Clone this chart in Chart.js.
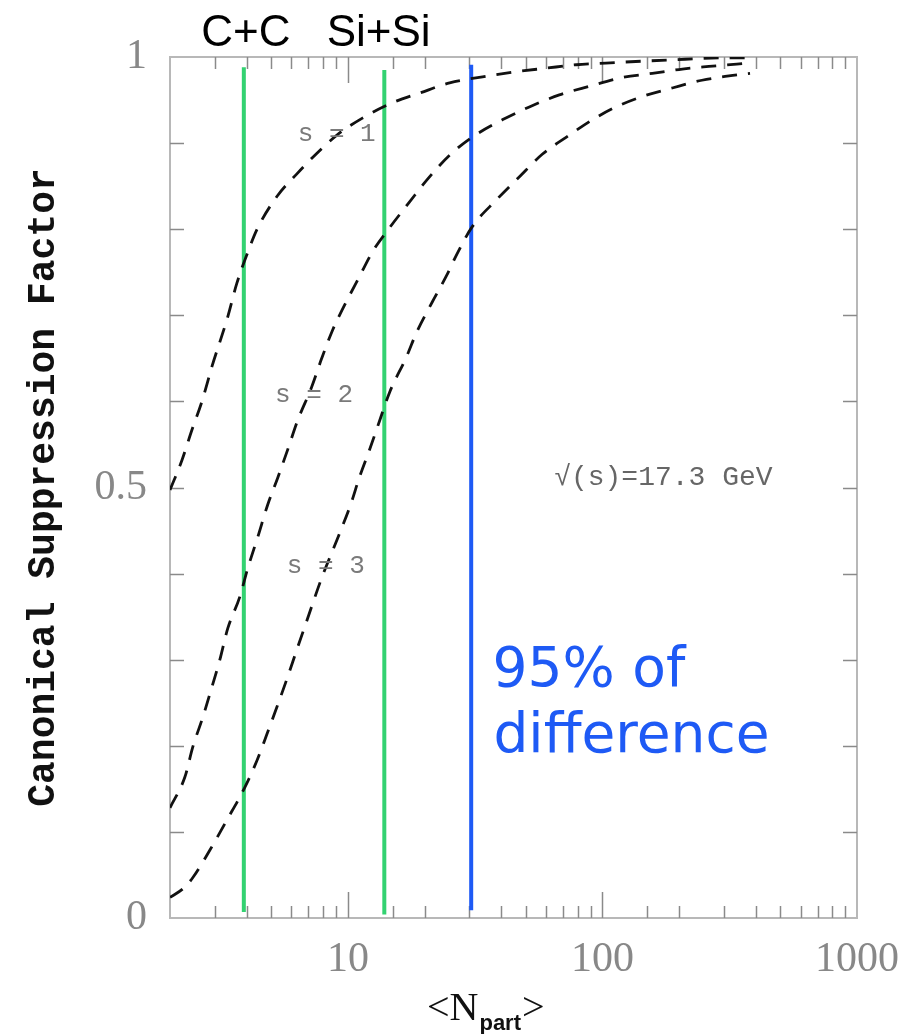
<!DOCTYPE html>
<html><head><meta charset="utf-8">
<script src="https://cdn.jsdelivr.net/npm/chart.js@4/dist/chart.umd.min.js"></script>
<style>html,body{margin:0;padding:0;background:#fff}canvas{display:block}</style>
</head><body>
<canvas id="c" width="924" height="1034"></canvas>
<script>
// ---- data ----
const s1N = [2, 2.23, 2.44, 2.67, 2.92, 3.37, 3.66, 4.04, 4.38, 5.26, 6.29, 7.54, 9.03, 11.4, 15.0, 19.1, 25.1, 33.8, 45.9, 60.1, 78.9, 103, 182, 314, 390];
const s1V = [0.497, 0.532, 0.567, 0.600, 0.640, 0.698, 0.737, 0.773, 0.799, 0.838, 0.864, 0.888, 0.909, 0.929, 0.947, 0.958, 0.970, 0.977, 0.983, 0.987, 0.991, 0.993, 0.9965, 0.999, 0.999];

const s2N = [2, 2.29, 2.46, 2.69, 2.92, 3.14, 3.37, 3.76, 4.04, 4.43, 4.84, 5.31, 5.8, 6.35, 7.21, 7.89, 8.71, 9.71, 11.1, 12.5, 14.6, 17.5, 20.4, 25.1, 30.8, 40.4, 51.6, 67.7, 88.7, 119, 157, 206, 262, 380];
const s2V = [0.128, 0.164, 0.199, 0.233, 0.268, 0.300, 0.336, 0.373, 0.406, 0.443, 0.480, 0.512, 0.544, 0.578, 0.617, 0.650, 0.683, 0.712, 0.745, 0.774, 0.802, 0.832, 0.857, 0.886, 0.907, 0.927, 0.942, 0.956, 0.966, 0.976, 0.981, 0.986, 0.989, 0.993];

const s3N = [2, 2.25, 2.46, 2.87, 3.35, 3.94, 4.38, 4.8, 5.26, 5.75, 6.29, 6.89, 7.89, 9.28, 10.3, 11.1, 12.2, 13.3, 14.6, 17.0, 18.6, 21.5, 24.4, 26.9, 30.8, 38.3, 47.2, 58.0, 72.2, 91.2, 113, 143, 188, 246, 314, 380];
const s3V = [0.024, 0.034, 0.047, 0.079, 0.114, 0.152, 0.182, 0.213, 0.245, 0.277, 0.311, 0.345, 0.395, 0.447, 0.482, 0.512, 0.545, 0.577, 0.611, 0.652, 0.680, 0.716, 0.746, 0.772, 0.803, 0.834, 0.861, 0.887, 0.907, 0.927, 0.942, 0.954, 0.964, 0.973, 0.978, 0.981];

const markerNames = ['C+C', 'Si+Si', '95%'];
const markerN     = [3.9, 13.9, 30.5];
const markerTop   = [0.988, 0.985, 0.991];
const markerBot   = [0.007, 0.004, 0.009];

const xTickLabels = [10, 100, 1000];
const yTickLabels = [0, 0.5, 1];

const curveLabels = ['s = 1', 's = 2', 's = 3'];
const energyLabel = '\u221A(s)=17.3 GeV';
const noteLines   = ['95% of', 'difference'];
const yTitle      = 'Canonical Suppression Factor';

// ---- build datasets ----
const pts = (xs, ys) => xs.map((x, i) => ({x, y: ys[i]}));
const curveStyle = {borderColor:'#111', borderWidth:2.8, borderDash:[15,11], pointRadius:0, fill:false, cubicInterpolationMode:'monotone'};
const markerColors = ['#33d271', '#33d271', '#1e5af5'];

const datasets = [
  Object.assign({label:curveLabels[0], data:pts(s1N, s1V)}, curveStyle),
  Object.assign({label:curveLabels[1], data:pts(s2N, s2V)}, curveStyle),
  Object.assign({label:curveLabels[2], data:pts(s3N, s3V)}, curveStyle),
];
markerN.forEach((n, i) => {
  datasets.push({label:markerNames[i], data:[{x:n, y:markerTop[i]}, {x:n, y:markerBot[i]}],
    borderColor:markerColors[i], borderWidth:4, pointRadius:0, fill:false});
});

const isDecade = v => Math.abs(Math.log10(v) - Math.round(Math.log10(v))) < 1e-9;
const near = (a, b) => Math.abs(a - b) < 1e-9;

const decorPlugin = {
  id: 'decor',
  beforeDatasetsDraw(chart) {
    const {ctx, chartArea:a, scales:{x, y}} = chart;
    ctx.save();
    ctx.strokeStyle = '#b8b8b8';
    ctx.lineWidth = 2;
    ctx.strokeRect(a.left, a.top, a.right - a.left, a.bottom - a.top);
    ctx.strokeStyle = '#8a8a8a';
    ctx.lineWidth = 1.5;
    x.ticks.forEach(t => {
      const px = Math.round(x.getPixelForValue(t.value)) + 0.5;
      if (px <= a.left + 1 || px >= a.right - 1) return;
      const len = isDecade(t.value) ? 26 : 12;
      ctx.beginPath();
      ctx.moveTo(px, a.bottom); ctx.lineTo(px, a.bottom - len);
      ctx.moveTo(px, a.top); ctx.lineTo(px, a.top + len);
      ctx.stroke();
    });
    y.ticks.forEach(t => {
      const py = Math.round(y.getPixelForValue(t.value)) + 0.5;
      if (py <= a.top + 1 || py >= a.bottom - 1) return;
      const len = 14;
      ctx.beginPath();
      ctx.moveTo(a.left, py); ctx.lineTo(a.left + len, py);
      ctx.moveTo(a.right, py); ctx.lineTo(a.right - len, py);
      ctx.stroke();
    });
    ctx.restore();
  },
  afterDraw(chart) {
    const {ctx, chartArea:a, scales:{x, y}} = chart;
    ctx.save();
    // curve annotations
    ctx.fillStyle = '#7a7a7a';
    ctx.font = '26px "Liberation Mono", "DejaVu Sans Mono", monospace';
    ctx.textAlign = 'left';
    ctx.textBaseline = 'middle';
    ctx.fillText(curveLabels[0], x.getPixelForValue(6.35), y.getPixelForValue(0.910));
    ctx.fillText(curveLabels[1], x.getPixelForValue(5.17), y.getPixelForValue(0.607));
    ctx.fillText(curveLabels[2], x.getPixelForValue(5.75), y.getPixelForValue(0.409));
    ctx.fillStyle = '#666';
    ctx.font = '28px "Liberation Mono", "DejaVu Sans Mono", monospace';
    ctx.fillText(energyLabel, x.getPixelForValue(64.6), y.getPixelForValue(0.512));
    // system labels above the frame
    ctx.fillStyle = '#000';
    ctx.font = '44px "Liberation Sans", Arial, sans-serif';
    ctx.textAlign = 'center';
    ctx.textBaseline = 'alphabetic';
    ctx.fillText(markerNames[0], x.getPixelForValue(3.97), y.getPixelForValue(1.0128));
    ctx.fillText(markerNames[1], x.getPixelForValue(13.2), y.getPixelForValue(1.0128));
    // blue note
    ctx.fillStyle = '#1e5af5';
    ctx.font = '55px "DejaVu Sans", sans-serif';
    ctx.textAlign = 'left';
    ctx.fillText(noteLines[0], x.getPixelForValue(37.0), y.getPixelForValue(0.2695));
    ctx.fillText(noteLines[1], x.getPixelForValue(37.3), y.getPixelForValue(0.193));
    // x axis title <N_part>
    const base = a.bottom + 102;
    let cx = a.left + 257;
    ctx.fillStyle = '#111';
    ctx.font = '40px "Liberation Serif", serif';
    ctx.fillText('<N', cx, base);
    cx += ctx.measureText('<N').width + 1;
    ctx.font = 'bold 22px "Liberation Sans", sans-serif';
    ctx.fillText('part', cx, base + 10);
    cx += ctx.measureText('part').width + 1;
    ctx.font = '40px "Liberation Serif", serif';
    ctx.fillText('>', cx, base);
    ctx.restore();
  }
};

new Chart(document.getElementById('c'), {
  type: 'line',
  data: { datasets },
  plugins: [decorPlugin],
  options: {
    responsive: false,
    animation: false,
    layout: { padding: { top: 57, right: 67, left: 0, bottom: 0 } },
    plugins: { legend: { display: false }, tooltip: { enabled: false } },
    scales: {
      x: {
        type: 'logarithmic', min: 2, max: 1000,
        grid: { display: false, drawTicks: false },
        border: { display: false },
        afterFit: s => { s.height = 116; },
        ticks: {
          autoSkip: false, maxRotation: 0, padding: 17, color: '#888',
          font: { family: '"Liberation Serif", serif', size: 42 },
          callback: v => xTickLabels.some(t => near(t, v)) ? String(v) : ''
        }
      },
      y: {
        type: 'linear', min: 0, max: 1,
        grid: { display: false, drawTicks: false },
        border: { display: false },
        afterFit: s => { s.width = 170; },
        title: {
          display: true, text: yTitle, color: '#111',
          font: { family: '"Liberation Mono", "DejaVu Sans Mono", monospace', size: 38, weight: 'bold' },
          padding: { top: 22, bottom: 0 }
        },
        ticks: {
          stepSize: 0.1, autoSkip: false, padding: 23, color: '#888',
          font: { family: '"Liberation Serif", serif', size: 42 },
          callback: v => { const m = yTickLabels.find(t => near(t, v)); return m === undefined ? '' : String(m); }
        }
      }
    }
  }
});
</script>
</body></html>
